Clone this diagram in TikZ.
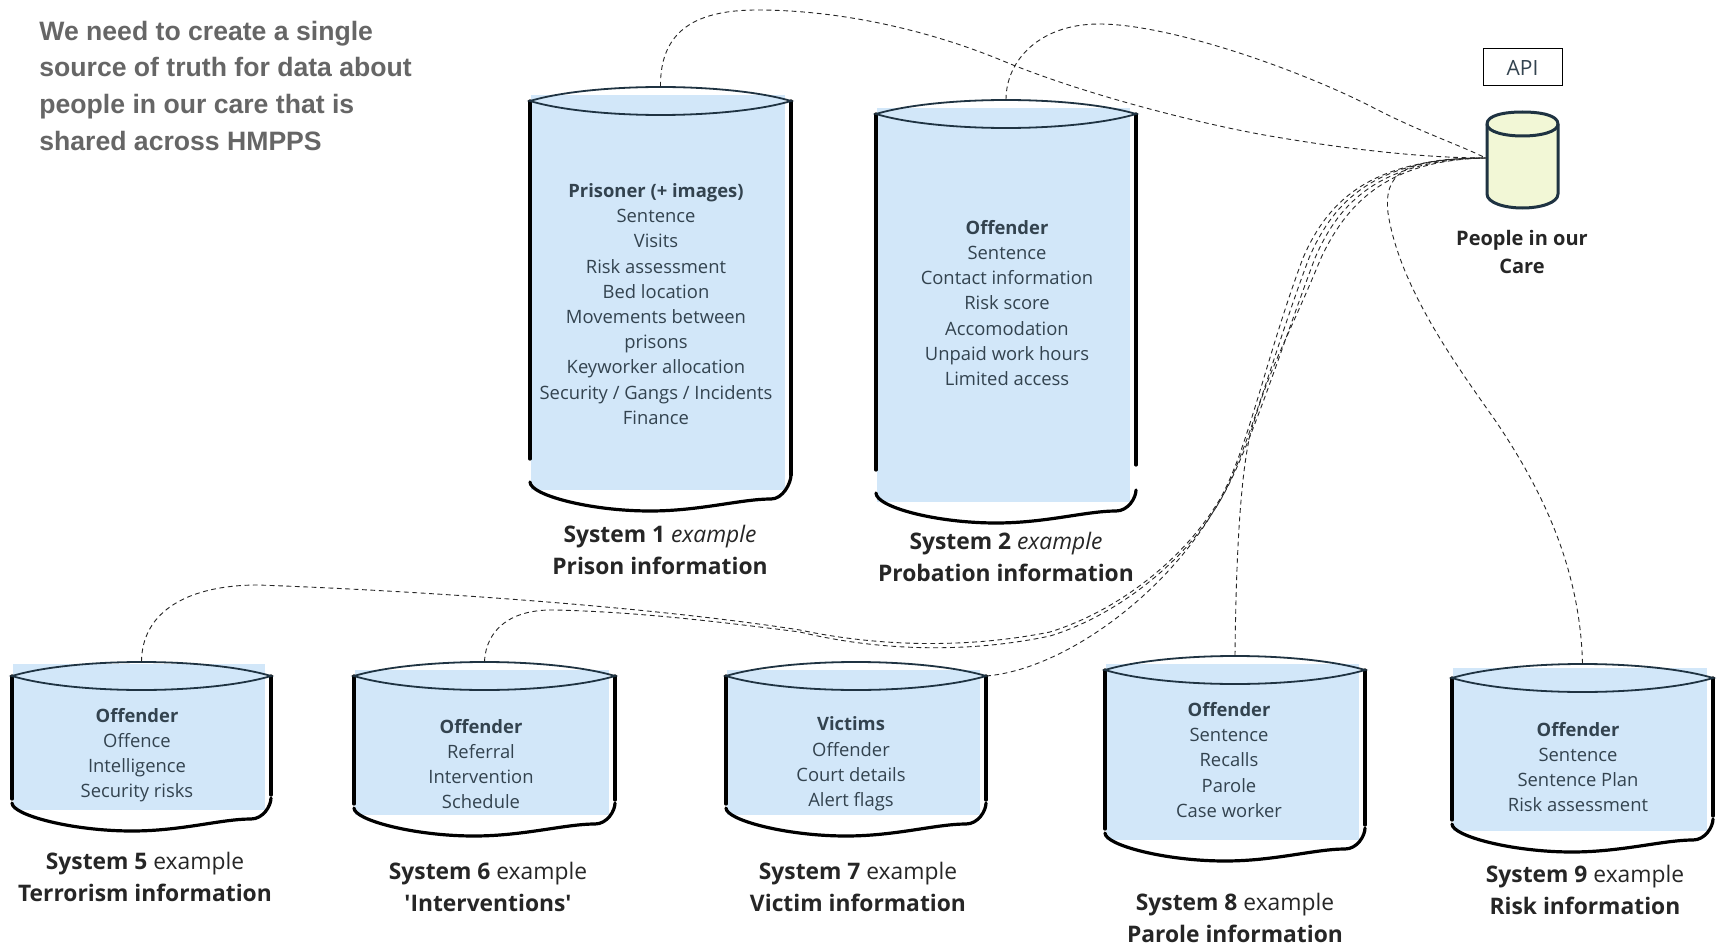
\documentclass[tikz,border=0pt]{standalone}
\usepackage{fontspec}
\setmainfont{Open Sans}
\newfontfamily\headfont{Liberation Sans}
\definecolor{dbfill}{HTML}{D2E7F9}
\definecolor{dbtext}{HTML}{33434F}
\definecolor{apifill}{HTML}{F2F7D6}
\definecolor{apiline}{HTML}{1F3342}
\definecolor{headgrey}{HTML}{666666}
\tikzset{
  contents/.style={align=center,text=dbtext,font=\fontsize{9.2}{12.6}\selectfont,inner sep=0pt},
  caption/.style={align=center,text=black!85,font=\fontsize{11.4}{16}\selectfont,inner sep=0pt},
  link/.style={draw=black!85,line width=0.45pt,dash pattern=on 2.4pt off 1.8pt},
  rim/.style={draw=black,line width=1.6pt,line cap=round},
  lid/.style={draw=apiline,line width=0.9pt}
}
\newcommand{\filltop}{8}
% name, L, R, T, B, left end, left restart, right end, right restart
\newcommand{\cyl}[9]{%
  \pgfmathsetmacro{\cx}{(#2+#3)/2}
  \pgfmathsetmacro{\cw}{(#3-#2)*0.5}
  \pgfmathsetmacro{\ch}{(#5-#4)*0.5}
  \pgfmathsetmacro{\cy}{(#4+#5)/2}
  \node[minimum width=\cw pt,minimum height=\ch pt,inner sep=0pt] (#1) at (\cx,\cy) {};
  \fill[dbfill] (#2+1,#4+\filltop) rectangle (#3-6,#5-21);
  \draw[rim] (#2,#4+14) -- (#2,#6);
  \draw[rim] (#3,#4+14) -- (#3,#8);
  \draw[rim] (#2,#7) .. controls (#2,#5-16) and (#2+60,#5) .. (#2+120,#5)
     .. controls (#2+170,#5) and (#3-50,#5-12) .. (#3-20,#5-12)
     .. controls (#3-8,#5-12) and (#3,#9+8) .. (#3,#9);
  \draw[lid] (#2,#4+14) .. controls (#2+30,#4+5) and (\cx-50,#4) .. (\cx,#4)
     .. controls (\cx+50,#4) and (#3-30,#4+5) .. (#3,#4+14)
     .. controls (#3-30,#4+23) and (\cx+50,#4+28) .. (\cx,#4+28)
     .. controls (\cx-50,#4+28) and (#2+30,#4+23) .. (#2,#4+14) -- cycle;
}
\begin{document}
\begin{tikzpicture}[x=0.5pt,y=-0.5pt]
\useasboundingbox (0,0) rectangle (1720,947);
\fill[white] (0,0) rectangle (1720,947);

\node[anchor=north west,align=left,inner sep=0pt,text=headgrey,font=\headfont\bfseries\fontsize{13.3}{18.4}\selectfont] (head) at (39,20.5)
  {We need to create a single\\source of truth for data about\\people in our care that is\\shared across HMPPS};

\cyl{c1}{530}{791}{87}{511}{459}{482}{475}{475}
\cyl{c2}{876}{1136}{100}{523}{470}{493}{465}{490}
\renewcommand{\filltop}{2}
\cyl{c5}{12}{271}{662}{831}{799}{803}{795}{798}
\renewcommand{\filltop}{8}
\cyl{c6}{354}{615}{662}{836}{804}{808}{800}{803}
\cyl{c7}{726}{986}{662}{836}{804}{808}{800}{803}
\cyl{c8}{1105}{1365}{656}{861}{829}{833}{825}{828}
\renewcommand{\filltop}{4}
\cyl{c9}{1452}{1713}{664}{852}{820}{824}{816}{819}
\renewcommand{\filltop}{8}

\node[contents] (t1) at (656,304) {\textbf{Prisoner (+ images)}\\Sentence\\Visits\\Risk assessment\\Bed location\\Movements between\\prisons\\Keyworker allocation\\Security / Gangs / Incidents\\Finance};
\node[contents] (t2) at (1007,303) {\textbf{Offender}\\Sentence\\Contact information\\Risk score\\Accomodation\\Unpaid work hours\\Limited access};
\node[contents] (t5) at (137,755) {\textbf{Offender}\\Offence\\Intelligence\\Security risks};
\node[contents] (t6) at (481,764) {\textbf{Offender}\\Referral\\Intervention\\Schedule};
\node[contents] (t7) at (851,764) {\textbf{Victims}\\Offender\\Court details\\Alert flags};
\node[contents] (t8) at (1229,760) {\textbf{Offender}\\Sentence\\Recalls\\Parole\\Case worker};
\node[contents] (t9) at (1578,767) {\textbf{Offender}\\Sentence\\Sentence Plan\\Risk assessment};

\node[caption] (l1) at (660,550) {\textbf{System 1} \textit{example}\\\textbf{Prison information}};
\node[caption] (l2) at (1006,557) {\textbf{System 2} \textit{example}\\\textbf{Probation information}};
\node[caption] (l5) at (145,877) {\textbf{System 5} example\\\textbf{Terrorism information}};
\node[caption] (l6) at (488,887) {\textbf{System 6} example\\\textbf{\textquotesingle Interventions\textquotesingle}};
\node[caption] (l7) at (858,887) {\textbf{System 7} example\\\textbf{Victim information}};
\node[caption] (l8) at (1235,918) {\textbf{System 8} example\\\textbf{Parole information}};
\node[caption] (l9) at (1585,890) {\textbf{System 9} example\\\textbf{Risk information}};

\node[draw=black,line width=0.5pt,minimum width=39.5pt,minimum height=18.5pt,inner sep=0pt,font=\fontsize{10.5}{12}\selectfont,text=dbtext] (api) at (1522.5,67.5) {API};

% people in our care store
\node[minimum width=36.5pt,minimum height=48pt,inner sep=0pt] (db) at (1522.5,158) {};
\draw[lid,line width=1.5pt,fill=apifill] (1487,124) -- (1487,194)
   .. controls (1487,203) and (1505,208) .. (1522.5,208)
   .. controls (1540,208) and (1558,203) .. (1558,194) -- (1558,124)
   .. controls (1558,115) and (1540,112) .. (1522.5,112)
   .. controls (1505,112) and (1487,115) .. (1487,124) -- cycle;
\draw[lid,line width=1.5pt] (1487,124) .. controls (1487,132) and (1505,136) .. (1522.5,136)
   .. controls (1540,136) and (1558,132) .. (1558,124);
\node[align=center,text=black!85,inner sep=0pt,font=\bfseries\fontsize{10}{14}\selectfont] (pl) at (1522,252) {People in our\\Care};

% connectors
\draw[link] (c1.north) .. controls (660,35) and (690,10) .. (757,10)
   .. controls (840,10) and (930,30) .. (1008,63)
   .. controls (1100,100) and (1220,128) .. (1276,137)
   .. controls (1340,148) and (1420,158) .. (db.west);
\draw[link] (c2.north) .. controls (1006,60) and (1040,24) .. (1099,24)
   .. controls (1170,24) and (1300,70) .. (1372,107)
   .. controls (1420,132) and (1460,145) .. (db.west);
\draw[link] (c5.north) .. controls (142,610) and (190,585) .. (258,585)
   .. controls (400,590) and (640,605) .. (800,630)
   .. controls (870,645) and (960,650) .. (1050,632)
   .. controls (1120,610) and (1180,560) .. (1213,510)
   .. controls (1245,465) and (1263,365) .. (1303,258)
   .. controls (1328,200) and (1372,158) .. (db.west);
\draw[link] (c6.north) .. controls (486,630) and (510,609) .. (555,610)
   .. controls (640,612) and (720,622) .. (800,632)
   .. controls (870,649) and (960,655) .. (1050,636)
   .. controls (1115,616) and (1180,565) .. (1213,512)
   .. controls (1245,465) and (1269,365) .. (1309,258)
   .. controls (1334,200) and (1376,158) .. (db.west);
\coordinate (c7r) at (986,676);
\draw[link] (c7r) .. controls (1060,670) and (1160,600) .. (1213,512)
   .. controls (1245,465) and (1275,365) .. (1315,258)
   .. controls (1340,200) and (1382,160) .. (db.west);
\draw[link] (c8.north) .. controls (1236,560) and (1240,480) .. (1250,435)
   .. controls (1270,365) and (1285,345) .. (1321,258)
   .. controls (1346,205) and (1386,160) .. (db.west);
\draw[link] (c9.north) .. controls (1580,560) and (1535,480) .. (1497,423)
   .. controls (1460,370) and (1400,290) .. (1388,213)
   .. controls (1384,175) and (1400,158) .. (db.west);
\end{tikzpicture}
\end{document}
